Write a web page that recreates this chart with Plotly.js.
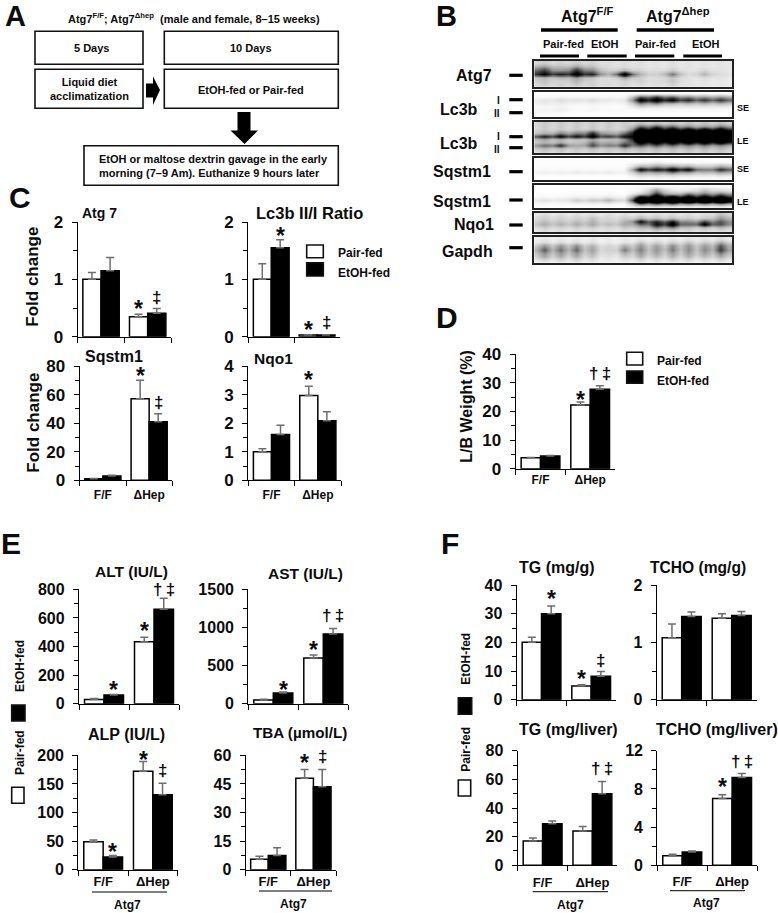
<!DOCTYPE html>
<html><head><meta charset="utf-8">
<script src="https://cdn.plot.ly/plotly-3.0.1.min.js"></script>
<style>html,body{margin:0;padding:0;background:#fff}</style></head>
<body><div id="chart" style="width:778px;height:913px"></div>
<script>
// ---------- categories ----------
const groups = ['F/F', 'ΔHep'];
const seriesNames = ['Pair-fed', 'EtOH-fed'];
// ---------- panel C ----------
const atg7Pair = [1.0, 0.35], atg7Etoh = [1.15, 0.41], atg7PairErr = [0.12, 0.04], atg7EtohErr = [0.23, 0.08];
const lc3bPair = [1.0, 0.03], lc3bEtoh = [1.55, 0.03], lc3bPairErr = [0.27, 0.005], lc3bEtohErr = [0.14, 0.005];
const sqstmPair = [1, 57], sqstmEtoh = [3, 41], sqstmPairErr = [0.3, 13], sqstmEtohErr = [0.5, 5.5];
const nqo1Pair = [1, 2.97], nqo1Etoh = [1.6, 2.08], nqo1PairErr = [0.1, 0.32], nqo1EtohErr = [0.33, 0.32];
// ---------- panel D ----------
const lbPair = [3.8, 22.2], lbEtoh = [4.4, 27.7], lbPairErr = [0.1, 1.1], lbEtohErr = [0.2, 1.2];
// ---------- panel E ----------
const altPair = [30, 433], altEtoh = [60, 660], altPairErr = [6, 32], altEtohErr = [5, 78];
const astPair = [50, 600], astEtoh = [140, 915], astPairErr = [8, 40], astEtohErr = [15, 70];
const alpPair = [49, 172], alpEtoh = [22, 131], alpPairErr = [3, 17], alpEtohErr = [3, 20];
const tbaPair = [5.5, 48], tbaEtoh = [7.5, 43.5], tbaPairErr = [1.5, 4.5], tbaEtohErr = [4, 9];
// ---------- panel F ----------
const tgPair = [20, 4.8], tgEtoh = [30, 8.2], tgPairErr = [1.8, 0.4], tgEtohErr = [2.7, 1.6];
const tchoPair = [1.08, 1.42], tchoEtoh = [1.45, 1.47], tchoPairErr = [0.24, 0.08], tchoEtohErr = [0.08, 0.07];
const tgLivPair = [17, 24], tgLivEtoh = [29, 50], tgLivPairErr = [2, 3], tgLivEtohErr = [2, 8.5];
const tchoLivPair = [1, 7], tchoLivEtoh = [1.4, 9.2], tchoLivPairErr = [0.15, 0.4], tchoLivEtohErr = [0.1, 0.4];
// ---------- blot band darkness, rows top to bottom, 12 lanes (values above 1 are saturated bands) ----------
const blotAtg7 = [
 [.22,.2,.22,.2,.15,.15,.14,.12,.14,.12,.12,.12],
 [.4,.28,.4,.28,.15,.15,.14,.12,.14,.12,.12,.12],
 [.65,.4,.7,.45,.2,.3,.18,.15,.22,.12,.18,.12],
 [.88,.75,.97,.75,.3,1,.3,.2,.5,.15,.3,.15],
 [.3,.3,.4,.25,.15,.35,.2,.15,.25,.12,.15,.12],
 [.25,.2,.3,.2,.15,.2,.2,.15,.24,.12,.12,.1],
 [.2,.2,.22,.2,.15,.18,.15,.14,.18,.12,.12,.1]];
const blotLc3Se = [
 [.01,.01,.01,.01,.01,.01,.02,.02,.02,.02,.02,.02],
 [.02,.03,.03,.03,.03,.03,.5,.6,.5,.4,.35,.35],
 [.1,.15,.12,.15,.1,.1,.95,1,.9,.75,.7,.7],
 [.08,.08,.05,.06,.04,.05,.45,.45,.3,.3,.3,.3],
 [.03,.04,.02,.03,.02,.02,.2,.15,.12,.12,.12,.1],
 [.05,.08,.02,.04,.02,.02,.03,.03,.03,.03,.03,.03],
 [.03,.02,.01,.01,.01,.01,.01,.01,.01,.01,.01,.01],
 [.01,.01,.01,.01,.01,.01,.01,.01,.01,.01,.01,.01]];
const blotLc3Le = [
 [.22,.22,.22,.22,.22,.22,.25,.25,.25,.25,.25,.25],
 [.22,.22,.22,.22,.22,.22,.55,.65,.55,.45,.4,.5],
 [.22,.22,.22,.25,.22,.22,.98,1.05,.98,.95,.95,.95],
 [.3,.45,.45,.7,.35,.5,1.5,1.5,1.5,1.5,1.5,1.5],
 [.8,.92,.85,1,.7,.85,1.5,1.5,1.5,1.5,1.5,1.5],
 [.35,.3,.25,.35,.25,.4,1.5,1.5,1.5,1.5,1.5,1.5],
 [.3,.35,.25,.5,.35,.5,1,1,1,1,1,1],
 [.55,.75,.35,.65,.5,.75,.6,.6,.55,.5,.5,.45],
 [.3,.3,.25,.3,.25,.35,.3,.3,.3,.3,.3,.3],
 [.2,.2,.2,.2,.2,.2,.22,.22,.22,.22,.22,.22]];
const blotSqSe = [
 [.01,.01,.01,.01,.01,.01,.01,.01,.01,.01,.01,.01],
 [.01,.01,.01,.01,.01,.01,.02,.08,.02,.02,.02,.02],
 [.01,.01,.01,.01,.01,.01,.28,.35,.35,.3,.2,.3],
 [.03,.03,.04,.03,.04,.03,.9,.85,1,.9,.5,.75],
 [.07,.07,.09,.08,.09,.06,.4,.38,.5,.38,.28,.38],
 [.01,.01,.01,.01,.01,.01,.15,.15,.15,.12,.1,.12],
 [.01,.01,.01,.01,.01,.01,.02,.02,.02,.02,.02,.02]];
const blotSqLe = [
 [.01,.01,.01,.01,.01,.01,.02,.05,.02,.02,.04,.02],
 [.01,.01,.01,.01,.01,.01,.05,.4,.1,.1,.25,.15],
 [.01,.01,.02,.02,.03,.01,.2,.7,.3,.5,.5,.5],
 [.03,.03,.06,.06,.09,.05,.85,1.1,.92,.92,.92,.92],
 [.12,.1,.2,.22,.3,.15,1.5,1.5,1.5,1.5,1.5,1.5],
 [.04,.03,.05,.05,.06,.03,.6,.6,.6,.5,.5,.5],
 [.01,.01,.01,.01,.01,.01,.1,.12,.1,.08,.08,.08]];
const blotNqo1 = [
 [.14,.14,.14,.14,.14,.14,.14,.14,.14,.14,.14,.25],
 [.2,.2,.2,.25,.18,.22,.3,.25,.25,.22,.22,.4],
 [.28,.26,.28,.32,.22,.32,.85,.75,.8,.45,.65,.6],
 [.34,.32,.34,.36,.28,.36,.55,.85,1,.55,.95,.62],
 [.22,.2,.22,.22,.18,.24,.3,.5,.5,.28,.3,.3],
 [.14,.14,.14,.14,.14,.14,.18,.2,.2,.16,.16,.16]];
const blotGapdh = [
 [.1,.1,.1,.1,.08,.1,.1,.1,.1,.12,.12,.15],
 [.16,.16,.16,.14,.1,.12,.25,.2,.22,.25,.22,.35],
 [.42,.42,.45,.32,.18,.35,.42,.38,.45,.42,.4,.6],
 [.58,.52,.55,.38,.2,.5,.48,.42,.5,.45,.45,.68],
 [.42,.4,.4,.3,.16,.3,.4,.35,.38,.38,.36,.45],
 [.32,.3,.3,.22,.12,.2,.28,.25,.28,.28,.25,.3],
 [.15,.15,.15,.12,.08,.1,.14,.12,.14,.14,.12,.14]];

// ---------- layout helpers (pixel frame of the 778x913 figure) ----------
const W = 778, H = 913, FONT = '"Liberation Sans", Arial, sans-serif', INK = '#0c0c0c';
const fx = p => p / W, fy = p => 1 - p / H;
const annotations = [], shapes = [], data = [], layout = {
  width: W, height: H, margin: {l: 0, r: 0, t: 0, b: 0}, paper_bgcolor: '#fff', plot_bgcolor: 'rgba(0,0,0,0)',
  showlegend: false, barmode: 'group', bargap: 0.22, bargroupgap: 0, font: {family: FONT, color: INK},
  annotations, shapes
};
function txt(x, y, text, size, o) {
  annotations.push(Object.assign({xref: 'paper', yref: 'paper', x: fx(x), y: fy(y), text: '<b>' + text + '</b>',
    showarrow: false, xanchor: 'center', yanchor: 'middle', borderpad: 0, font: {family: FONT, size, color: INK}}, o || {}));
}
function rect(x0, x1, y0, y1, fill, lw) {
  shapes.push({type: 'rect', xref: 'paper', yref: 'paper', x0: fx(x0), x1: fx(x1), y0: fy(y0), y1: fy(y1),
    fillcolor: fill, line: {color: '#111', width: lw === undefined ? 1.6 : lw}});
}
function hline(x0, x1, y, w) {
  shapes.push({type: 'line', xref: 'paper', yref: 'paper', x0: fx(x0), x1: fx(x1), y0: fy(y), y1: fy(y), line: {color: '#000', width: w}});
}
function poly(pts) {
  shapes.push({type: 'path', xref: 'paper', yref: 'paper', fillcolor: '#000', line: {width: 0},
    path: 'M' + pts.map(p => fx(p[0]) + ',' + fy(p[1])).join('L') + 'Z'});
}
let axN = 0;
function newAxes(box) {
  axN++;
  const s = axN === 1 ? '' : axN;
  return {n: axN, xa: 'x' + s, ya: 'y' + s, xk: 'xaxis' + s, yk: 'yaxis' + s,
    xd: [fx(box[0]), fx(box[1])], yd: [fy(box[3]), fy(box[2])]};
}
const BARW = (1 - layout.bargap) / 2;
function barPanel(c) {
  const a = newAxes(c.box);
  const err = (arr) => ({type: 'data', symmetric: false, array: arr, arrayminus: arr.map(() => 0), color: '#6e6e6e', thickness: 1.5, width: 4});
  const line = {color: '#000', width: 1.5};
  data.push({type: 'bar', name: seriesNames[0], x: groups, y: c.P, xaxis: a.xa, yaxis: a.ya, marker: {color: '#fff', line}, error_y: err(c.Pe), hoverinfo: 'skip'});
  data.push({type: 'bar', name: seriesNames[1], x: groups, y: c.E, xaxis: a.xa, yaxis: a.ya, marker: {color: '#000', line}, error_y: err(c.Ee), hoverinfo: 'skip'});
  layout[a.xk] = {domain: a.xd, anchor: a.ya, type: 'category', range: [-0.5, 1.5], tickson: 'boundaries', ticks: 'outside', ticklen: 5, tickwidth: 1.3, tickcolor: '#000',
    showline: true, linecolor: '#000', linewidth: 1.3, showgrid: false, zeroline: false, showticklabels: !!c.labels, ticklabelstandoff: c.xoff || 0,
    tickfont: {family: FONT, size: c.xsize || 12, weight: 700, color: INK}, fixedrange: true};
  layout[a.yk] = {domain: a.yd, anchor: a.xa, range: [0, c.top], dtick: c.dtick, tick0: 0, ticks: 'outside', ticklen: 5, tickwidth: 1.3, tickcolor: '#000',
    minor: {dtick: c.minor, tick0: 0, ticks: 'outside', ticklen: 4, tickwidth: 1.1, tickcolor: '#000', showgrid: false},
    showline: true, linecolor: '#000', linewidth: 1.3, showgrid: false, zeroline: false, ticklabelstandoff: 5,
    tickfont: {family: FONT, size: c.ysize, weight: 700, color: INK}, fixedrange: true};
  (c.marks || []).forEach(m => {
    const [g, s, t, gap] = m;
    const vals = s === 'P' ? c.P : c.E, es = s === 'P' ? c.Pe : c.Ee;
    const star = t === '*';
    annotations.push({xref: a.xa, yref: a.ya, x: g + (s === 'P' ? -BARW / 2 : BARW / 2), y: vals[g] + es[g], text: '<b>' + t + '</b>',
      showarrow: false, xanchor: 'center', yanchor: 'middle', yshift: star ? gap - 6 : gap, borderpad: 0, font: {family: FONT, size: star ? 23 : 17, color: INK}});
  });
}
function gel(box, rows, gapRatio) {
  const a = newAxes(box);
  const nx = rows[0].length, x = [];
  for (let i = 0; i <= 2 * nx; i++) x.push(i / 2);
  const z = rows.map(r => {
    const o = [];
    for (let i = 0; i < nx; i++) {
      const prev = i === 0 ? r[0] : r[i - 1];
      o.push((prev + r[i]) / 2 * gapRatio, r[i]);
    }
    o.push(r[nx - 1] * gapRatio);
    return o;
  });
  data.push({type: 'heatmap', x, z, xaxis: a.xa, yaxis: a.ya, zmin: 0, zmax: 1, zsmooth: 'best', showscale: false, hoverinfo: 'skip',
    colorscale: [[0, '#ffffff'], [.2, '#d0d0d0'], [.4, '#9a9a9a'], [.65, '#404040'], [.85, '#050505'], [1, '#000000']]});
  const ax = {showticklabels: false, ticks: '', showgrid: false, zeroline: false, showline: true, mirror: true, linecolor: '#222', linewidth: 1.5, fixedrange: true};
  layout[a.xk] = Object.assign({domain: a.xd, anchor: a.ya, range: [-0.1, 12.25]}, ax);
  layout[a.yk] = Object.assign({domain: a.yd, anchor: a.xa, range: [rows.length - 0.5, -0.5]}, ax);
}
const DAG = '†\u2009‡';

// ---------- panel A ----------
txt(15, 16, 'A', 29);
txt(194, 17.5, 'Atg7<sup>F/F</sup>; Atg7<sup>Δhep</sup>  (male and female, 8–15 weeks)', 11);
rect(35, 143, 31.3, 64.3, '#fff'); rect(35, 143, 69.3, 108.3, '#fff');
rect(164.3, 338.3, 31.3, 64.3, '#fff'); rect(164.3, 338.3, 69.3, 108.3, '#fff');
rect(84, 338.3, 145.7, 185.3, '#fff');
poly([[146,83.5],[153,83.5],[153,76.5],[160,90],[153,105],[153,97.5],[146,97.5]]);
poly([[237.5,112],[250.5,112],[250.5,130.5],[258,130.5],[244.5,144],[230.5,130.5],[237.5,130.5]]);
txt(91.3, 47.5, '5 Days', 11); txt(251, 47.5, '10 Days', 11);
txt(89, 89, 'Liquid diet<br>acclimatization', 11);
txt(251, 89.5, 'EtOH-fed or Pair-fed', 11);
txt(98, 166, 'EtOH or maltose dextrin gavage in the early<br>morning (7–9 Am). Euthanize 9 hours later', 11, {xanchor: 'left', align: 'left'});

// ---------- panel B ----------
txt(447, 16, 'B', 29);
txt(587, 15, 'Atg7<sup>F/F</sup>', 16); txt(678, 15, 'Atg7<sup>Δhep</sup>', 16);
hline(541, 617.7, 30, 3.5); hline(636.7, 714, 30, 3.5);
txt(563.3, 44.3, 'Pair-fed', 11); txt(605, 43.5, 'EtOH', 11); txt(655.7, 43.7, 'Pair-fed', 11); txt(705.7, 44, 'EtOH', 11);
[[540,579],[587.3,626.7],[635,674.3],[683.3,722]].forEach(b => hline(b[0], b[1], 56, 3));
const BX = [534.3, 732];
gel([BX[0], BX[1], 61, 86.7], blotAtg7, .8);
gel([BX[0], BX[1], 91.7, 117.3], blotLc3Se, .78);
gel([BX[0], BX[1], 121.7, 153.3], blotLc3Le, .75);
gel([BX[0], BX[1], 157.7, 180.3], blotSqSe, .8);
gel([BX[0], BX[1], 185, 208.3], blotSqLe, .75);
gel([BX[0], BX[1], 212.7, 232.3], blotNqo1, .72);
gel([BX[0], BX[1], 236.7, 262.7], blotGapdh, .55);
txt(474.3, 75.7, 'Atg7', 16); txt(459, 109, 'Lc3b', 16); txt(459, 144, 'Lc3b', 16);
txt(462, 171.7, 'Sqstm1', 16); txt(462, 201, 'Sqstm1', 16); txt(474.3, 224, 'Nqo1', 16); txt(467.7, 251, 'Gapdh', 16);
[75.3, 99.7, 112.7, 136.7, 147.7, 171.7, 200, 225, 247.7].forEach(y => hline(509.3, 522.7, y, 3.2));
txt(499, 100, 'I', 10); txt(497, 113.3, 'II', 10); txt(499, 136.7, 'I', 10); txt(497, 150, 'II', 10);
txt(742.7, 107.7, 'SE', 9); txt(742.7, 140.7, 'LE', 9); txt(742.7, 169, 'SE', 9); txt(742.7, 201.7, 'LE', 9);

// ---------- panel C ----------
txt(20, 197, 'C', 30);
barPanel({box: [77.7, 171, 222, 336.7], P: atg7Pair, E: atg7Etoh, Pe: atg7PairErr, Ee: atg7EtohErr, top: 2, dtick: 1, minor: .5, ysize: 17,
  marks: [[1,'P','*',11],[1,'E','‡',11]]});
barPanel({box: [248.3, 340, 222, 336.7], P: lc3bPair, E: lc3bEtoh, Pe: lc3bPairErr, Ee: lc3bEtohErr, top: 2, dtick: 1, minor: .5, ysize: 17,
  marks: [[0,'E','*',10],[1,'P','*',11],[1,'E','‡',12]]});
barPanel({box: [79.7, 172.3, 366, 480.3], P: sqstmPair, E: sqstmEtoh, Pe: sqstmPairErr, Ee: sqstmEtohErr, top: 80, dtick: 20, minor: 10, ysize: 17, labels: true, xoff: 3,
  marks: [[1,'P','*',10],[1,'E','‡',11]]});
barPanel({box: [248.3, 341, 366, 480.3], P: nqo1Pair, E: nqo1Etoh, Pe: nqo1PairErr, Ee: nqo1EtohErr, top: 4, dtick: 1, minor: .5, ysize: 17, labels: true, xoff: 3,
  marks: [[1,'P','*',12]]});
txt(99, 213, 'Atg 7', 14); txt(309, 213, 'Lc3b II/I Ratio', 16.5); txt(114, 356.7, 'Sqstm1', 16); txt(273, 358, 'Nqo1', 15.5);
txt(31.7, 277, 'Fold change', 17, {textangle: -90}); txt(32.7, 423, 'Fold change', 17, {textangle: -90});
rect(306.7, 323.3, 245, 257.7, '#fff'); rect(306.7, 323.3, 262.7, 276, '#000');
txt(336.7, 253, seriesNames[0], 12, {xanchor: 'left'}); txt(336.7, 273, seriesNames[1], 12, {xanchor: 'left'});

// ---------- panel D ----------
txt(447, 317, 'D', 30);
barPanel({box: [515.7, 615, 354, 468.7], P: lbPair, E: lbEtoh, Pe: lbPairErr, Ee: lbEtohErr, top: 40, dtick: 10, minor: 5, ysize: 17, labels: true,
  marks: [[1,'P','*',8],[1,'E',DAG,12]]});
txt(467, 406.7, 'L/B Weight (%)', 16, {textangle: -90});
rect(626.7, 642.7, 352.3, 365, '#fff'); rect(626.7, 642.7, 371, 383.3, '#000');
txt(656, 361, seriesNames[0], 12, {xanchor: 'left'}); txt(656, 380.7, seriesNames[1], 12, {xanchor: 'left'});

// ---------- panel E ----------
txt(0, 543, 'E', 30, {xanchor: 'left'});
barPanel({box: [79, 179, 589.3, 703.7], P: altPair, E: altEtoh, Pe: altPairErr, Ee: altEtohErr, top: 800, dtick: 200, minor: 100, ysize: 16,
  marks: [[0,'E','*',10],[1,'P','*',12],[1,'E',DAG,9]]});
barPanel({box: [248.3, 348.3, 589.3, 703.7], P: astPair, E: astEtoh, Pe: astPairErr, Ee: astEtohErr, top: 1500, dtick: 500, minor: 250, ysize: 16,
  marks: [[0,'E','*',8],[1,'P','*',11],[1,'E',DAG,13]]});
barPanel({box: [78.3, 177.7, 755.3, 869.7], P: alpPair, E: alpEtoh, Pe: alpPairErr, Ee: alpEtohErr, top: 200, dtick: 50, minor: 25, ysize: 16, labels: true, xsize: 13,
  marks: [[0,'E','*',9],[1,'P','*',8],[1,'E','‡',13]]});
barPanel({box: [245.7, 336, 755.3, 869.7], P: tbaPair, E: tbaEtoh, Pe: tbaPairErr, Ee: tbaEtohErr, top: 60, dtick: 15, minor: 7.5, ysize: 16, labels: true, xsize: 13,
  marks: [[1,'P','*',13],[1,'E','‡',13]]});
txt(131.7, 571.7, 'ALT (IU/L)', 15.5); txt(305, 573, 'AST (IU/L)', 15.5);
txt(126.7, 734, 'ALP (IU/L)', 16); txt(300, 732.7, 'TBA (µmol/L)', 15.2);
hline(92, 167, 892, 1); txt(128, 905, 'Atg7', 12);
hline(259, 332, 891, 1); txt(293, 904, 'Atg7', 12);
rect(11.7, 25, 705, 721, '#000'); rect(11.7, 24, 787.3, 803.3, '#fff');
txt(20, 666, seriesNames[1], 12, {textangle: -90}); txt(20, 753, seriesNames[0], 12, {textangle: -90});

// ---------- panel F ----------
txt(449.5, 543, 'F', 30);
barPanel({box: [516.7, 616, 585, 699.7], P: tgPair, E: tgEtoh, Pe: tgPairErr, Ee: tgEtohErr, top: 40, dtick: 10, minor: 5, ysize: 16,
  marks: [[0,'E','*',13],[1,'P','*',12],[1,'E','‡',11]]});
barPanel({box: [656.7, 756.7, 585, 699.7], P: tchoPair, E: tchoEtoh, Pe: tchoPairErr, Ee: tchoEtohErr, top: 2, dtick: 1, minor: .5, ysize: 16});
barPanel({box: [517.7, 617.3, 750.7, 865.3], P: tgLivPair, E: tgLivEtoh, Pe: tgLivPairErr, Ee: tgLivEtohErr, top: 80, dtick: 20, minor: 10, ysize: 16, labels: true, xsize: 13, xoff: 5,
  marks: [[1,'E',DAG,13]]});
barPanel({box: [657.3, 757, 750.7, 865.3], P: tchoLivPair, E: tchoLivEtoh, Pe: tchoLivPairErr, Ee: tchoLivEtohErr, top: 12, dtick: 4, minor: 2, ysize: 16, labels: true, xsize: 13, xoff: 4,
  marks: [[1,'P','*',14],[1,'E',DAG,12]]});
txt(556.7, 567.7, 'TG (mg/g)', 16); txt(698, 567.7, 'TCHO (mg/g)', 15.6);
txt(568, 729, 'TG (mg/liver)', 16); txt(716.7, 729, 'TCHO (mg/liver)', 16);
hline(532.7, 608, 891.7, 1); txt(570, 905, 'Atg7', 12);
hline(670, 745, 890.7, 1); txt(706, 903, 'Atg7', 12);
rect(458.3, 471.7, 697.7, 714.3, '#000'); rect(458.3, 470.7, 780, 796, '#fff');
txt(466, 658.8, seriesNames[1], 12, {textangle: -90}); txt(466, 749.7, seriesNames[0], 12, {textangle: -90});

Plotly.newPlot('chart', data, layout, {displayModeBar: false, responsive: false});
</script></body></html>
